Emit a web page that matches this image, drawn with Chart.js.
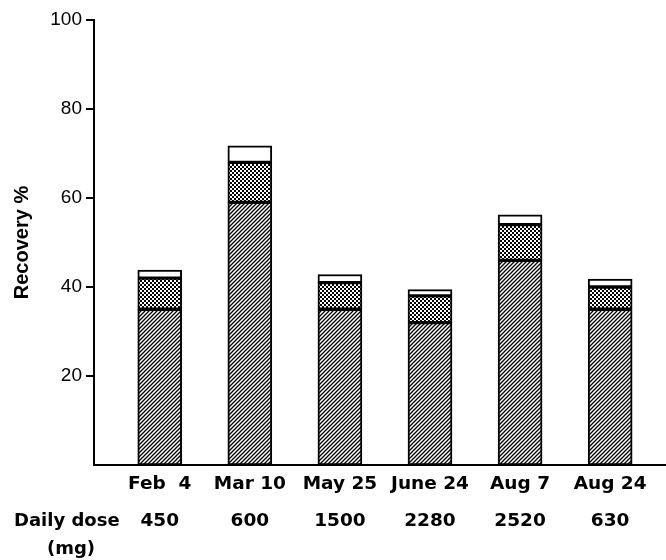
<!DOCTYPE html>
<html>
<head>
<meta charset="utf-8">
<script src="https://cdn.jsdelivr.net/npm/chart.js@4"></script>
<style>
  html, body { margin: 0; padding: 0; background: #fff; }
  #wrap { width: 666px; height: 560px; }
</style>
</head>
<body>
<div id="wrap"><canvas id="recoveryChart"></canvas></div>
<script>
// values
const dates = ['Feb  4', 'Mar 10', 'May 25', 'June 24', 'Aug 7', 'Aug 24'];
const doses = ['450', '600', '1500', '2280', '2520', '630'];
const hatched = [35, 59, 35, 32, 46, 35];
const dotted = [7, 9, 6, 6, 8, 5];
const blank = [1.8, 3.7, 1.8, 1.4, 2.2, 1.8];
const yTicks = [20, 40, 60, 80, 100];

const labelFont = { family: 'DejaVu Sans', size: 18.5, weight: 'bold' };

// fill patterns for the bar segments
function makePattern(kind) {
  const c = document.createElement('canvas');
  const g = c.getContext('2d');
  c.width = 4; c.height = 4;
  g.fillStyle = '#fff';
  g.fillRect(0, 0, 4, 4);
  g.fillStyle = '#000';
  if (kind === 'hatch') {
    g.strokeStyle = '#000';
    g.lineWidth = 1.3;
    g.beginPath();
    g.moveTo(-1, 5); g.lineTo(5, -1);
    g.moveTo(-1, 1); g.lineTo(1, -1);
    g.moveTo(3, 5); g.lineTo(5, 3);
    g.stroke();
  } else {
    g.fillRect(0, 0, 2, 2);
    g.fillRect(2, 2, 2, 2);
  }
  return g.createPattern(c, 'repeat');
}

const points = arr => arr.map((v, i) => ({ x: i, y: v }));

const doseRow = {
  id: 'doseRow',
  afterDraw(chart) {
    const ctx = chart.ctx;
    const b = chart.chartArea.bottom;
    ctx.save();
    ctx.fillStyle = '#000';
    ctx.font = 'bold 18px "DejaVu Sans"';
    ctx.textAlign = 'left';
    ctx.textBaseline = 'middle';
    ctx.fillText('Daily dose', 14, b + 56);
    ctx.fillText('(mg)', 47, b + 84);
    ctx.restore();
  }
};

const ctx = document.getElementById('recoveryChart').getContext('2d');

const recoveryChart = new Chart(ctx, {
  type: 'bar',
  data: {
    datasets: [
      { label: 'hatched', data: points(hatched), backgroundColor: makePattern('hatch') },
      { label: 'dotted', data: points(dotted), backgroundColor: makePattern('dots') },
      { label: 'blank', data: points(blank), backgroundColor: '#fff' }
    ].map(d => Object.assign(d, {
      borderColor: '#000',
      borderWidth: 2,
      borderSkipped: false,
      barThickness: 44
    }))
  },
  options: {
    responsive: true,
    maintainAspectRatio: false,
    animation: false,
    layout: { padding: { top: 20, right: 0, bottom: 0, left: 0 } },
    plugins: { legend: { display: false }, tooltip: { enabled: false } },
    scales: {
      x: {
        type: 'linear',
        stacked: true,
        offset: false,
        min: -0.73,
        max: 5.62,
        afterFit: s => { s.height = 95; },
        afterBuildTicks: s => { s.ticks = dates.map((d, i) => ({ value: i })); },
        grid: { display: false },
        border: { color: '#000', width: 2 },
        ticks: {
          color: '#000',
          padding: 2,
          maxRotation: 0,
          autoSkip: false,
          font: Object.assign({ lineHeight: '18.5px' }, labelFont),
          callback: v => [dates[v], '', doses[v]]
        }
      },
      y: {
        stacked: true,
        min: 0,
        max: 100,
        afterFit: s => { s.width = 94; },
        afterBuildTicks: s => { s.ticks = yTicks.map(v => ({ value: v })); },
        grid: { drawOnChartArea: false, color: '#000', tickLength: 8, lineWidth: 2 },
        border: { color: '#000', width: 2 },
        title: {
          display: true,
          text: 'Recovery %',
          color: '#000',
          font: { family: 'Liberation Sans', size: 20, weight: 'bold' },
          padding: { top: 10, bottom: 0 }
        },
        ticks: {
          color: '#000',
          padding: 4,
          font: { family: 'Liberation Sans', size: 19 }
        }
      }
    }
  },
  plugins: [doseRow]
});
</script>
</body>
</html>
